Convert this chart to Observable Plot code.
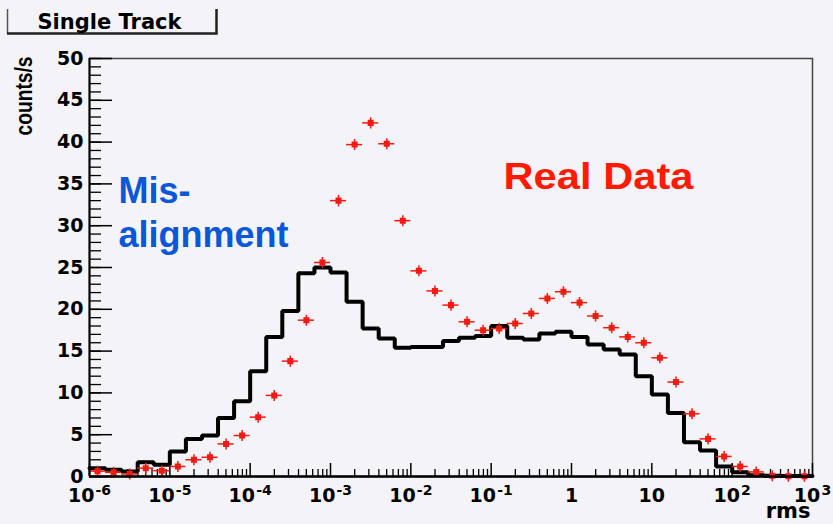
<!DOCTYPE html>
<html>
<head>
<meta charset="utf-8">
<script src="https://cdn.jsdelivr.net/npm/d3@7"></script>
<script src="https://cdn.jsdelivr.net/npm/@observablehq/plot@0.6"></script>
<style>
  html, body { margin: 0; padding: 0; background: #f4f3f7; }
</style>
</head>
<body>
<div id="chart"></div>
<script>
// Histogram binning: 5 logarithmic bins per decade from 1e-6 to 1e3
const logMin = -6;
const binsPerDecade = 5;

// Misalignment simulation (black histogram), counts/s per bin
const misalignment = [
  1.0, 0.8, 0.6, 1.7, 1.4,
  3.0, 4.5, 4.9, 7.0, 9.0,
  12.6, 16.7, 19.8, 24.3, 25.0,
  24.4, 20.9, 17.7, 16.5, 15.4,
  15.5, 15.5, 16.2, 16.6, 16.8,
  18.0, 16.6, 16.4, 17.1, 17.3,
  16.7, 15.8, 15.2, 14.6, 12.0,
  9.8, 7.6, 4.1, 3.1, 1.2,
  0.5, 0.15, 0.1, 0.05, 0.05
];

// Real data (red points), counts/s per bin
const realData = [
  0.64, 0.5, 0.3, 1.0, 0.7,
  1.2, 2.0, 2.3, 3.9, 4.9,
  7.1, 9.7, 13.8, 18.7, 25.6,
  33.0, 39.7, 42.3, 39.8, 30.6,
  24.6, 22.2, 20.5, 18.5, 17.5,
  17.7, 18.3, 19.5, 21.3, 22.1,
  20.8, 19.2, 17.8, 16.7, 16.0,
  14.2, 11.3, 7.5, 4.5, 2.4,
  1.2, 0.55, 0.1, 0.03, 0.02
];

// Axis ticks
const yMajor = [0, 5, 10, 15, 20, 25, 30, 35, 40, 45, 50];
const yMinor = d3.range(0, 51, 1);
const xDecades = [1e-6, 1e-5, 1e-4, 1e-3, 1e-2, 1e-1, 1, 10, 100, 1000];
const xDecadeLabels = ["10^-6", "10^-5", "10^-4", "10^-3", "10^-2", "10^-1", "1", "10", "10^2", "10^3"];
const xMinor = xDecades.slice(0, -1).flatMap(d => [2, 3, 4, 5, 6, 7, 8, 9].map(m => m * d));

const edge = i => Math.pow(10, logMin + i / binsPerDecade);
const histSteps = misalignment.map((v, i) => ({x: edge(i), y: v}))
  .concat([{x: edge(misalignment.length), y: misalignment[misalignment.length - 1]}]);
const points = realData.map((v, i) => ({
  lo: edge(i), hi: edge(i + 1), c: Math.pow(10, logMin + (i + 0.5) / binsPerDecade), y: v
}));

const W = 833, H = 524;
const mL = 89, mR = 21, mT = 58, mB = 48;
const innerW = W - mL - mR, innerH = H - mT - mB;

const red = "#f21a12";
const axisFont = {fontFamily: "DejaVu Sans", fontWeight: "bold"};

// Marker: filled square with a short vertical error whisker
const squareWithWhisker = {
  draw(ctx, size) {
    const s = Math.sqrt(size) / 2;
    ctx.moveTo(-s, -s); ctx.lineTo(s, -s); ctx.lineTo(s, s); ctx.lineTo(-s, s); ctx.closePath();
    ctx.moveTo(-0.75, -s - 2.5); ctx.lineTo(0.75, -s - 2.5); ctx.lineTo(0.75, s + 2.5); ctx.lineTo(-0.75, s + 2.5); ctx.closePath();
  }
};

const chart = Plot.plot({
  width: W, height: H,
  marginLeft: mL, marginRight: mR, marginTop: mT, marginBottom: mB,
  style: {background: "#f4f3f7", color: "black", fontFamily: "DejaVu Sans", overflow: "visible"},
  x: {type: "log", domain: [1e-6, 1e3]},
  y: {domain: [0, 50]},
  marks: [
    Plot.frame({stroke: "#444", strokeWidth: 1.5}),
    // inward ticks
    Plot.tickY(yMinor, {y: d => d, insetRight: innerW - 12, stroke: "black", strokeWidth: 1.3}),
    Plot.tickY(yMajor, {y: d => d, insetRight: innerW - 23, stroke: "black", strokeWidth: 1.5}),
    Plot.tickX(xMinor, {x: d => d, insetTop: innerH - 7, stroke: "black", strokeWidth: 1.3}),
    Plot.tickX(xDecades, {x: d => d, insetTop: innerH - 13, stroke: "black", strokeWidth: 1.5}),
    Plot.axisY({ticks: yMajor, tickSize: 0, tickPadding: 6, fontSize: 19, ...axisFont, label: null}),
    Plot.axisX({
      ticks: xDecades, tickSize: 0, tickPadding: 12, fontSize: 19, ...axisFont, label: null,
      tickFormat: d => xDecadeLabels[xDecades.indexOf(d)] ?? ""
    }),
    // misalignment histogram
    Plot.line(histSteps, {x: "x", y: "y", curve: "step-after", stroke: "black", strokeWidth: 4, strokeLinejoin: "miter"}),
    // real data points with bin-width bars
    Plot.ruleY(points, {x1: "lo", x2: "hi", y: "y", stroke: red, strokeWidth: 1.5}),
    Plot.dot(points, {x: "c", y: "y", symbol: squareWithWhisker, r: 3.4, fill: red, stroke: "none"}),
    // axis lines
    Plot.ruleX([1e-6], {stroke: "black", strokeWidth: 2}),
    Plot.ruleY([0], {stroke: "black", strokeWidth: 2.5}),
    // labels
    Plot.text(["counts/s"], {frameAnchor: "top-left", dx: -74, dy: -2, rotate: -90, textAnchor: "end",
      fontFamily: "Liberation Sans", fontWeight: "bold", fontSize: 23, fill: "black", className: "y-title"}),
    Plot.text(["rms"], {frameAnchor: "bottom-right", dx: -2, dy: 27, textAnchor: "end", lineAnchor: "top",
      ...axisFont, fontSize: 21, fill: "black"}),
    Plot.text(["Single Track"], {frameAnchor: "top-left", dx: 20, dy: -44, textAnchor: "middle", lineAnchor: "top",
      ...axisFont, fontSize: 21, fill: "black"}),
    Plot.text(["Mis-\nalignment"], {frameAnchor: "top-left", dx: 29, dy: 113, textAnchor: "start", lineAnchor: "top",
      lineHeight: 1.22, fontFamily: "Liberation Sans", fontWeight: "bold", fontSize: 36, fill: "#0a58d8"}),
    Plot.text(["Real Data"], {frameAnchor: "top-left", dx: 414, dy: 104, textAnchor: "start", lineAnchor: "top",
      fontFamily: "Liberation Sans", fontWeight: "bold", fontSize: 37, fill: "#ff1a00", className: "real-data"})
  ]
});

const svg = d3.select(chart);

// superscript exponents on the decade labels
svg.selectAll('g[aria-label="x-axis tick label"] text').each(function() {
  const t = d3.select(this);
  const s = t.text();
  if (s.includes("^")) {
    const [base, exp] = s.split("^");
    t.text(null);
    t.append("tspan").text(base);
    t.append("tspan").attr("dy", "-0.5em").attr("dx", "0.08em").attr("font-size", "0.74em").text(exp);
  }
});

// condensed widths for the rotated axis title and the "Real Data" note
svg.selectAll(".y-title text").attr("textLength", 79).attr("lengthAdjust", "spacingAndGlyphs");
svg.selectAll(".real-data text").attr("textLength", 190).attr("lengthAdjust", "spacingAndGlyphs");

// title box with shadowed right/bottom edges
const box = svg.insert("g", ":first-child").attr("fill", "none");
box.append("path").attr("d", "M7.5,9 V33.5").attr("stroke", "#555").attr("stroke-width", 1.5);
box.append("path").attr("d", "M7,33.5 H216.5 V9").attr("stroke", "#222").attr("stroke-width", 2.5);

document.getElementById("chart").append(chart);
</script>
</body>
</html>
